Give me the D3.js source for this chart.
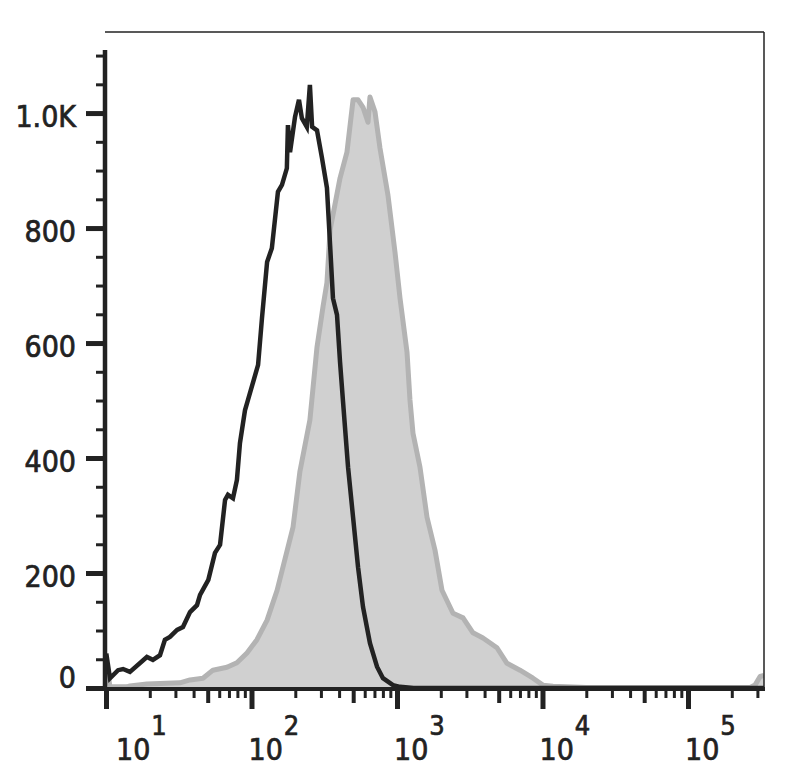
<!DOCTYPE html>
<html>
<head>
<meta charset="utf-8">
<script src="https://cdn.jsdelivr.net/npm/d3@7"></script>
<style>
  html, body { margin: 0; padding: 0; background: #fff; }
  svg text { font-family: "DejaVu Sans Condensed", "DejaVu Sans", sans-serif; font-stretch: condensed; fill: #222; stroke: #222; stroke-width: 0.7px; }
</style>
</head>
<body>
<svg id="chart" width="795" height="780"></svg>
<script>
// Control (unstained) histogram: channel value, count
const ctrlX = [10.05, 10.65, 12.1, 13.1, 14.6, 19.1, 21.0, 23.5, 25.4, 27.5, 30.8, 33.8, 37.8, 42.2, 44.3, 50.5, 56.1, 60.8, 65.8, 68.9, 74.6, 79.4, 83.3, 90.2, 94.6, 111, 118, 128, 138, 152, 162, 175, 178, 184, 199, 212, 222, 240, 252, 261, 282, 305, 330, 347, 363, 387, 406, 426, 461, 499, 540, 584, 652, 729, 801, 939, 1049, 1300, 333000];
const ctrlY = [60, 17, 31, 33, 28, 54, 49, 57, 84, 89, 101, 106, 132, 144, 162, 188, 235, 249, 327, 336, 330, 362, 426, 483, 501, 562, 643, 741, 765, 863, 875, 904, 979, 932, 993, 1023, 991, 976, 1049, 976, 970, 922, 870, 770, 678, 649, 567, 497, 384, 297, 210, 141, 78, 37, 17, 5, 2, 0, 0];

// Stained histogram (filled grey)
const stainX = [10.02, 10.65, 13.9, 14.6, 19.1, 32.2, 37.8, 46.4, 54.3, 67.8, 79.4, 93.1, 109, 128, 150, 193, 215, 252, 282, 310, 330, 347, 406, 453, 499, 540, 584, 632, 652, 706, 764, 867, 969, 1049, 1172, 1228, 1288, 1439, 1608, 1824, 2038, 2427, 2843, 3329, 3899, 4864, 5702, 7003, 8610, 10070, 11800, 20000, 100000, 267000, 289000, 313000, 333000];
const stainY = [48, 2, 2, 3.5, 7, 9, 14, 17, 31, 36, 44, 61, 84, 118, 170, 280, 376, 466, 593, 663, 705, 797, 887, 932, 1023, 1023, 1010, 984, 1028, 1002, 939, 857, 758, 678, 584, 501, 443, 384, 297, 240, 170, 130, 122, 96, 87, 70, 43, 31, 17, 5, 3, 1, 1, 1, 5, 20, 22];

const yMajorTicks = [0, 200, 400, 600, 800, 1000];
const yTickLabels = ["0", "200", "400", "600", "800", "1.0K"];
const xDecades = [1, 2, 3, 4, 5];

const svg = d3.select("#chart");
const pLeft = 106, pRight = 764, pTop = 32, pBottom = 688;

const x = d3.scaleLog().domain([10, 333000]).range([pLeft, pRight]);
const y = d3.scaleLinear().domain([0, 1141]).range([pBottom, pTop]);

const stain = stainX.map((v, i) => ({x: v, y: stainY[i]}));
const ctrl = ctrlX.map((v, i) => ({x: v, y: ctrlY[i]}));

svg.append("defs").append("clipPath").attr("id", "clip")
  .append("rect").attr("x", pLeft).attr("y", pTop - 5).attr("width", pRight - pLeft).attr("height", pBottom - pTop + 5);

const g = svg.append("g").attr("clip-path", "url(#clip)");

g.append("path").datum(stain)
  .attr("d", d3.area().x(d => x(d.x)).y0(y(0)).y1(d => y(d.y)))
  .attr("fill", "#d0d0d0");
g.append("path").datum(stain)
  .attr("d", d3.line().x(d => x(d.x)).y(d => y(d.y)))
  .attr("fill", "none").attr("stroke", "#b3b3b3").attr("stroke-width", 5).attr("stroke-linejoin", "round");
g.append("path").datum(ctrl)
  .attr("d", d3.line().x(d => x(d.x)).y(d => y(d.y)))
  .attr("fill", "none").attr("stroke", "#222").attr("stroke-width", 4.5).attr("stroke-linejoin", "miter");

// frame
svg.append("line").attr("x1", pLeft - 1).attr("x2", pRight).attr("y1", pTop).attr("y2", pTop)
  .attr("stroke", "#222").attr("stroke-width", 1.5);
svg.append("line").attr("x1", pRight).attr("x2", pRight).attr("y1", pTop).attr("y2", pBottom)
  .attr("stroke", "#222").attr("stroke-width", 1.5);

// Y axis
const yMinor = d3.range(50, 1101, 50).filter(v => v % 200 !== 0);
const yAxisMinor = d3.axisLeft(y).tickValues(yMinor).tickSize(8).tickFormat("");
const yAxisMajor = d3.axisLeft(y).tickValues(yMajorTicks).tickSize(18)
  .tickFormat((d, i) => yTickLabels[i]).tickPadding(10);

const gyMinor = svg.append("g").attr("transform", `translate(${pLeft - 2},0)`).call(yAxisMinor);
gyMinor.select(".domain").remove();
gyMinor.selectAll("line").attr("stroke", "#222").attr("stroke-width", 3);

const gy = svg.append("g").attr("transform", `translate(${pLeft - 2},0)`).call(yAxisMajor);
gy.select(".domain").remove();
gy.selectAll("line").attr("stroke", "#222").attr("stroke-width", 5);
gy.attr("font-family", null).attr("font-size", null);
gy.selectAll("text").attr("font-size", 30).attr("dy", (d) => d === 0 ? "-0.02em" : "0.45em");

svg.append("line").attr("x1", pLeft - 1).attr("x2", pLeft - 1).attr("y1", 50).attr("y2", pBottom + 3)
  .attr("stroke", "#222").attr("stroke-width", 4.5);

// X axis
const xMajor = xDecades.map(e => Math.pow(10, e));
const xMid = [];
const xMinor = [];
for (let e = 1; e <= 5; e++) {
  for (let k = 2; k <= 9; k++) {
    const v = k * Math.pow(10, e);
    if (v > 333000) continue;
    if (k === 5) xMid.push(v); else xMinor.push(v);
  }
}
const xAxisMinor = d3.axisBottom(x).tickValues(xMinor).tickSize(9).tickFormat("");
const xAxisMid = d3.axisBottom(x).tickValues(xMid).tickSize(14).tickFormat("");
const xAxisMajor = d3.axisBottom(x).tickValues(xMajor).tickSize(20).tickFormat("");
[[xAxisMinor, 3], [xAxisMid, 4], [xAxisMajor, 5]].forEach(([ax, w]) => {
  const gg = svg.append("g").attr("transform", `translate(0,${pBottom + 1})`).call(ax);
  gg.select(".domain").remove();
  gg.selectAll("line").attr("stroke", "#222").attr("stroke-width", w);
});
svg.append("line").attr("x1", pLeft - 3).attr("x2", pRight + 1).attr("y1", pBottom + 1).attr("y2", pBottom + 1)
  .attr("stroke", "#222").attr("stroke-width", 4);

// X labels: 10^n
xDecades.forEach(e => {
  const px = x(Math.pow(10, e)) + (e === 1 ? 10 : -3);
  const t = svg.append("text").attr("x", px).attr("y", 760).attr("font-size", 30);
  t.append("tspan").text("10");
  t.append("tspan").attr("dx", 1).attr("dy", -25).attr("font-size", 27).text(String(e));
});
</script>
</body>
</html>
